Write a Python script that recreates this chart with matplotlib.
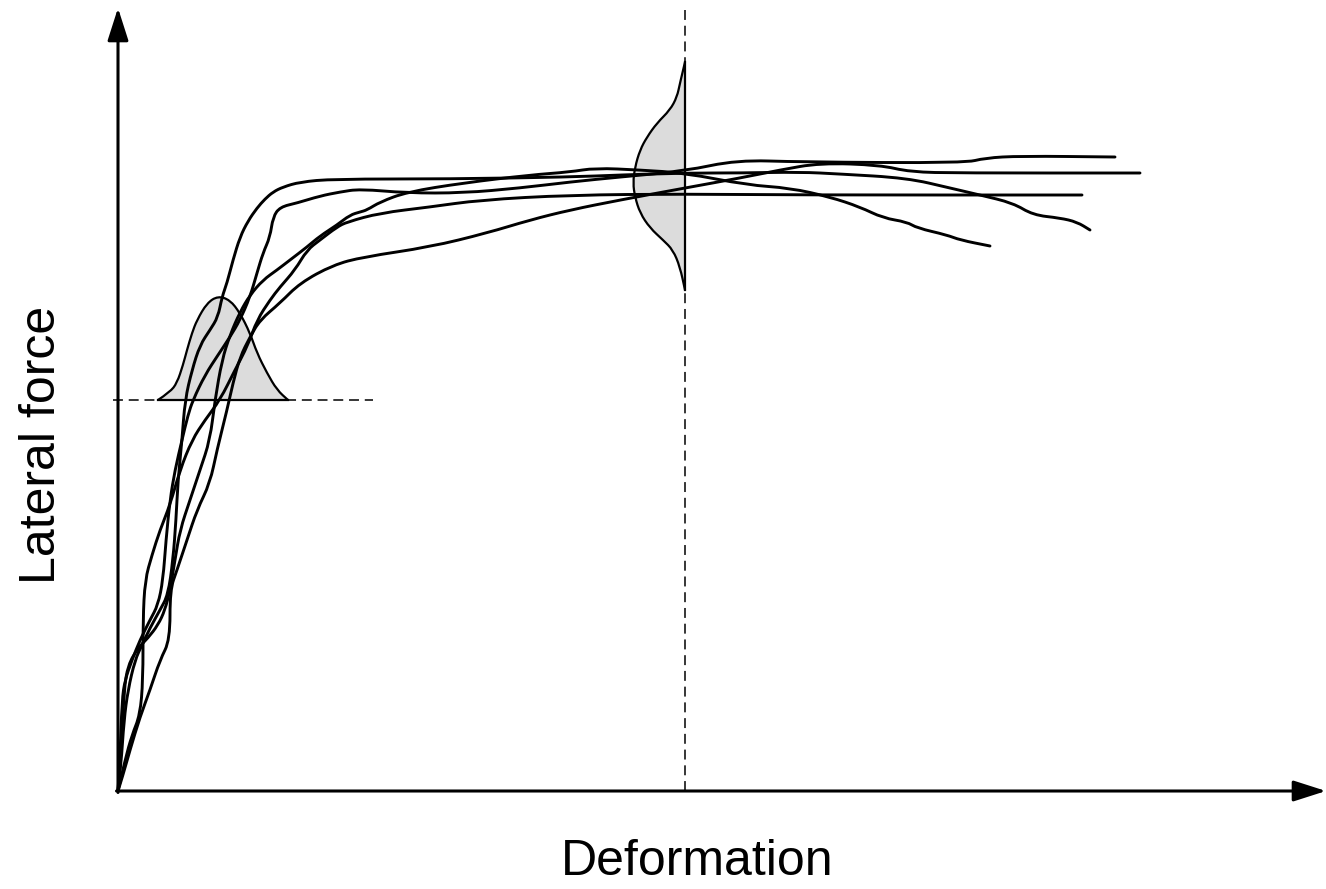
import matplotlib
matplotlib.use("Agg")
import matplotlib.pyplot as plt
from matplotlib.path import Path
from matplotlib.patches import PathPatch

plt.rcParams['font.family'] = ['Liberation Sans', 'DejaVu Sans']

# ---------------- data (deformation, lateral force; arbitrary units) ----------------
c1_def = [0, 3, 6, 10, 17, 24, 32, 42, 50, 55, 58, 60, 64, 67, 74, 82, 92, 100, 104, 109, 115, 122,
          130, 139, 147, 155, 165, 182, 215, 332, 452, 502, 567, 622, 682, 722, 789, 832, 862, 895,
          915, 942, 959, 972]
c1_frc = [0, 26, 71, 101, 131, 146, 163, 181, 196, 231, 271, 311, 351, 391, 421, 446, 461, 474, 494,
          508, 531, 554, 570, 583, 592, 599, 604, 609, 612, 612, 614, 616, 618, 618, 619, 617, 613,
          603, 596, 588, 576, 573, 569, 561]

c2_def = [0, 2, 4, 7, 14, 22, 32, 40, 45, 48, 52, 57, 64, 70, 75, 87, 100, 112, 122, 132, 139, 145,
          152, 155, 162, 179, 202, 222, 242, 289, 345, 402, 452, 502, 567, 619, 682, 847, 867, 902, 997]
c2_frc = [0, 31, 91, 111, 131, 151, 171, 186, 211, 251, 291, 321, 351, 376, 391, 416, 436, 454, 471,
          494, 518, 538, 554, 574, 584, 588, 595, 599, 602, 598, 598, 603, 609, 614, 620, 631, 629,
          628, 633, 635, 634]

c3_def = [0, 4, 6, 10, 20, 30, 40, 47, 52, 57, 62, 72, 82, 92, 97, 104, 112, 122, 132, 145, 159, 172,
          189, 202, 219, 232, 242, 249, 262, 289, 345, 412, 452, 477, 522, 567, 629, 672, 712, 742,
          765, 789, 799, 829, 842, 872]
c3_frc = [0, 51, 101, 126, 143, 153, 166, 181, 201, 231, 261, 291, 321, 351, 391, 431, 456, 479, 496,
          511, 521, 531, 544, 555, 566, 576, 579, 581, 589, 599, 608, 616, 619, 623, 621, 618, 606,
          603, 594, 584, 573, 569, 563, 556, 551, 545]

c4_def = [0, 7, 14, 22, 25, 25, 27, 34, 42, 52, 62, 74, 87, 102, 117, 130, 139, 152, 162, 177, 189,
          202, 219, 229, 262, 312, 362, 452, 567, 682, 964]
c4_frc = [0, 31, 56, 76, 111, 171, 211, 236, 261, 286, 321, 351, 371, 391, 421, 446, 471, 491, 504,
          521, 541, 551, 564, 569, 578, 584, 591, 596, 597, 596, 596]

c5_def = [0, 5, 12, 22, 32, 42, 52, 52, 59, 69, 79, 92, 99, 109, 115, 122, 132, 142, 162, 182, 215,
          245, 312, 369, 412, 452, 502, 567, 622, 662, 702, 762, 792, 842, 1022]
c5_frc = [0, 16, 41, 74, 101, 131, 151, 201, 221, 251, 281, 308, 341, 381, 408, 434, 454, 471, 488,
          508, 526, 534, 544, 558, 571, 581, 591, 603, 613, 621, 628, 626, 619, 618, 618]

curves = [(c1_def, c1_frc), (c2_def, c2_frc), (c3_def, c3_frc), (c4_def, c4_frc), (c5_def, c5_frc)]

# distribution of yield point (force level of the horizontal reference)
yield_force = 391
dist_y_def = [40, 52, 59, 65, 69, 74, 79, 89, 100, 112, 122, 132, 139, 149, 159, 170]
dist_y_h = [0, 8, 17, 35, 50, 67, 80, 97, 104, 100, 87, 67, 47, 27, 10, 0]

# distribution of force at a given deformation (vertical reference)
ref_def = 567
dist_f_frc = [729, 708, 694, 681, 668, 654, 641, 624, 608, 594, 578, 563, 551, 541, 524, 501]
dist_f_w = [0, 5, 8, 15, 28, 38, 45, 50, 52, 50, 45, 35, 22, 12, 5, 0]


def smooth_path(xs, ys, close_to=None):
    """Path through the points, rounded with quadratic segments between midpoints."""
    pts = list(zip(xs, ys))
    verts = [pts[0]]
    codes = [Path.MOVETO]
    for i in range(1, len(pts) - 1):
        mx = (pts[i][0] + pts[i + 1][0]) / 2
        my = (pts[i][1] + pts[i + 1][1]) / 2
        verts += [pts[i], (mx, my)]
        codes += [Path.CURVE3, Path.CURVE3]
    verts.append(pts[-1])
    codes.append(Path.LINETO)
    if close_to is not None:
        verts.append(pts[0])
        codes.append(Path.LINETO)
    return Path(verts, codes)


# ---------------- figure ----------------
fig = plt.figure(figsize=(13.26, 8.89), dpi=100)
ax = fig.add_axes([0, 0, 1, 1])
ax.set_xlim(-118, 1208)
ax.set_ylim(-98, 791)
ax.axis('off')

dash = (0, (6.5, 3.8))
# reference dashed lines
ax.plot([-5, 255], [yield_force, yield_force], color='black', lw=1.1, linestyle=dash, zorder=1)
ax.plot([ref_def, ref_def], [0, 783], color='black', lw=1.1, linestyle=dash, zorder=1)

# distributions
yb = [yield_force + h for h in dist_y_h]
ax.add_patch(PathPatch(smooth_path(dist_y_def, yb, close_to=True), facecolor='#dcdcdc',
                       edgecolor='none', zorder=2))
ax.add_patch(PathPatch(smooth_path(dist_y_def, yb), facecolor='none', edgecolor='black',
                       lw=1.6, zorder=3))
ax.plot([dist_y_def[0], dist_y_def[-1]], [yield_force, yield_force], color='black', lw=1.6, zorder=3)

xb = [ref_def - w for w in dist_f_w]
ax.add_patch(PathPatch(smooth_path(xb, dist_f_frc, close_to=True), facecolor='#dcdcdc',
                       edgecolor='none', zorder=2))
ax.add_patch(PathPatch(smooth_path(xb, dist_f_frc), facecolor='none', edgecolor='black',
                       lw=1.6, zorder=3))
ax.plot([ref_def, ref_def], [dist_f_frc[0], dist_f_frc[-1]], color='black', lw=1.6, zorder=3)

# curves
for d, f in curves:
    ax.add_patch(PathPatch(smooth_path(d, f), facecolor='none', edgecolor='black', lw=2.1,
                           joinstyle='round', capstyle='round', zorder=4))

# axes with arrows
arrow = dict(arrowstyle='-|>,head_length=0.5,head_width=0.16', color='black', lw=2.2,
             mutation_scale=40, shrinkA=0, shrinkB=0)
ax.annotate('', xy=(0, 783), xytext=(0, -1.5), arrowprops=arrow, zorder=5, annotation_clip=False)
ax.annotate('', xy=(1208, 0), xytext=(-1.5, 0), arrowprops=arrow, zorder=5, annotation_clip=False)

fig.text(42 / 1326, 1 - 445 / 889, 'Lateral force', rotation=90, ha='center', va='center', fontsize=36)
fig.text(697 / 1326, 1 - 862 / 889, 'Deformation', ha='center', va='center', fontsize=36)

fig.savefig('out.png', dpi=100)
